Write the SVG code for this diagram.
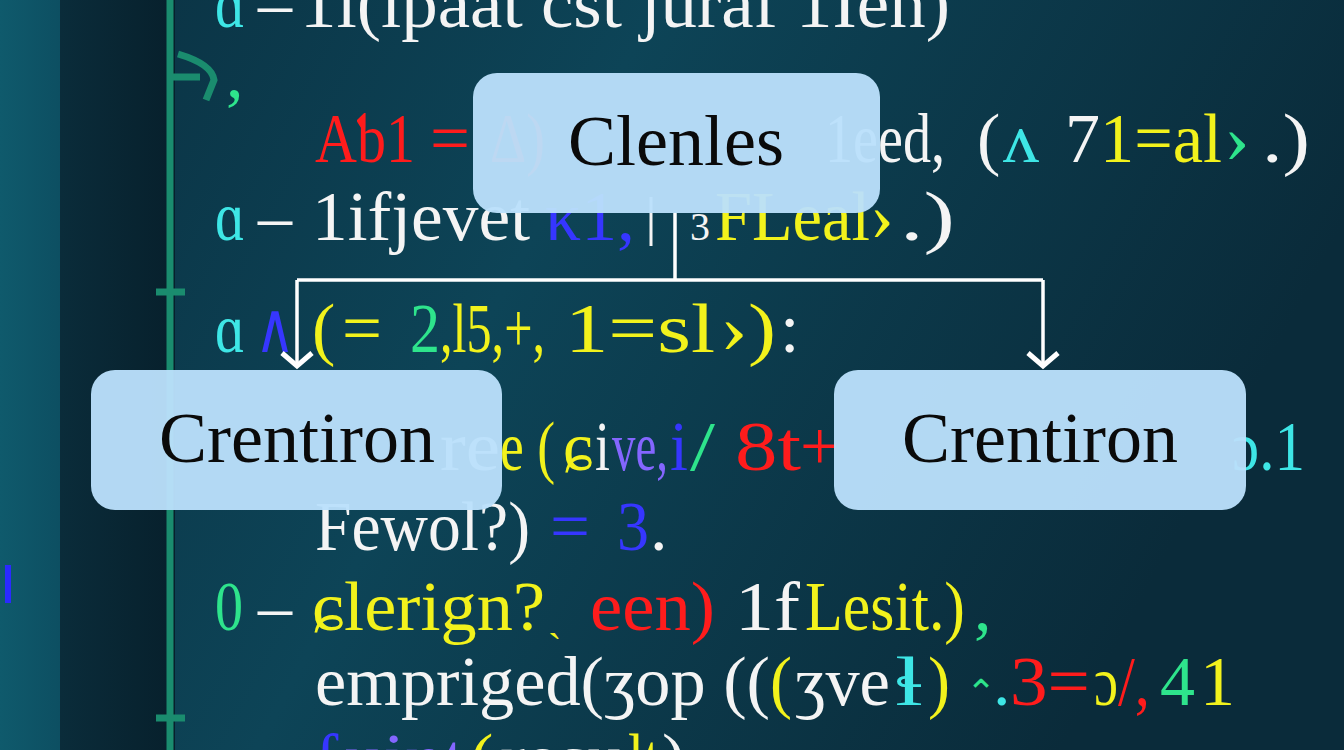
<svg xmlns="http://www.w3.org/2000/svg" width="1344" height="750" viewBox="0 0 1344 750">
<defs>
<linearGradient id="bgMain" x1="0" y1="0" x2="1" y2="0.3">
<stop offset="0" stop-color="#0a3041"/>
<stop offset="0.45" stop-color="#0d4457"/>
<stop offset="1" stop-color="#0a2b3a"/>
</linearGradient>
<linearGradient id="bgDark" x1="0" y1="0" x2="1" y2="0">
<stop offset="0" stop-color="#0a2c3a"/>
<stop offset="1" stop-color="#07202c"/>
</linearGradient>
<linearGradient id="bgStrip" x1="0" y1="0" x2="1" y2="0">
<stop offset="0" stop-color="#0f5a6c"/>
<stop offset="1" stop-color="#0d4f62"/>
</linearGradient>
<marker id="arr" viewBox="0 0 30 34" refX="26" refY="17" markerWidth="30" markerHeight="34" markerUnits="userSpaceOnUse" orient="auto">
<path d="M13,2 L26,17 L13,32" fill="none" stroke="#ffffff" stroke-width="5" stroke-linejoin="miter"/>
</marker>
<style>
.code text{font-family:"Liberation Serif","DejaVu Serif",serif;font-size:70px;fill:#f4f4f4}
.node rect{fill:#bae0fb;fill-opacity:0.96}
.node text{font-family:"Liberation Serif","DejaVu Serif",serif;font-size:72px;fill:#0a0a0a;text-anchor:middle}
.code .cy{fill:#3ee6e6}.code .rd{fill:#ff1c1c}.code .ye{fill:#f2f21c}.code .gr{fill:#2ee48c}.code .bl{fill:#3636ff}.code .pu{fill:#8466ff}
.conn{fill:none;stroke:#ffffff;stroke-width:3.5}
</style>
</defs>
<rect x="0" y="0" width="1344" height="750" fill="url(#bgMain)"/>
<rect x="60" y="0" width="115" height="750" fill="url(#bgDark)"/>
<rect x="0" y="0" width="60" height="750" fill="url(#bgStrip)"/>
<g id="ruler" fill="none" stroke="#1a8c6e" stroke-width="7">
<line x1="170" y1="0" x2="170" y2="750"/>
<line x1="156" y1="292" x2="185" y2="292"/>
<line x1="156" y1="718" x2="185" y2="718"/>
<path d="M170,77 H200 M178,54 Q212,64 214,80 L206,100"/>
</g>
<rect x="5" y="565" width="6" height="38" fill="#2a2aff"/>
<g id="code" class="code">
<g id="line1">
<text x="215" y="27" class="cy" textLength="30" lengthAdjust="spacingAndGlyphs">ɑ</text>
<text x="258" y="27" textLength="34" lengthAdjust="spacingAndGlyphs">–</text>
<text x="300" y="27" textLength="650" lengthAdjust="spacingAndGlyphs">1i(ipaat cst juraf 1Ien)</text>
</g>
<text x="226" y="97" class="gr">,</text>
<g id="line3">
<text x="315" y="162" class="rd" textLength="100" lengthAdjust="spacingAndGlyphs">Aƅ1</text>
<text x="430" y="162" class="rd" textLength="40" lengthAdjust="spacingAndGlyphs">=</text>
<text x="490" y="162" class="rd" textLength="55" lengthAdjust="spacingAndGlyphs">Δ)</text>
<text x="825" y="162" textLength="120" lengthAdjust="spacingAndGlyphs">1eed,</text>
<text x="977" y="162">(</text>
<text x="1003" y="162" class="cy" textLength="36" lengthAdjust="spacingAndGlyphs">ʌ</text>
<text x="1065" y="162">7</text>
<text x="1100" y="162" class="ye" textLength="122" lengthAdjust="spacingAndGlyphs">1=al</text>
<text x="1224" y="162" class="gr" textLength="26" lengthAdjust="spacingAndGlyphs">›</text>
<text x="1262" y="162" textLength="48" lengthAdjust="spacingAndGlyphs">.)</text>
</g>
<g id="line4">
<text x="215" y="240" class="cy" textLength="30" lengthAdjust="spacingAndGlyphs">ɑ</text>
<text x="258" y="240" textLength="34" lengthAdjust="spacingAndGlyphs">–</text>
<text x="312" y="240" textLength="218" lengthAdjust="spacingAndGlyphs">1ifjevet</text>
<text x="545" y="240" class="bl" textLength="90" lengthAdjust="spacingAndGlyphs">κ1,</text>
<text x="690" y="240" style="font-size:40px">3</text>
<text x="715" y="240" class="ye" textLength="155" lengthAdjust="spacingAndGlyphs">FLeal</text>
<text x="870" y="240" class="ye" textLength="24" lengthAdjust="spacingAndGlyphs">›</text>
<text x="900" y="240" textLength="55" lengthAdjust="spacingAndGlyphs">.)</text>
</g>
<g id="line5">
<text x="215" y="352" class="cy" textLength="30" lengthAdjust="spacingAndGlyphs">ɑ</text>
<text x="255" y="352" class="bl" textLength="40" lengthAdjust="spacingAndGlyphs">∧</text>
<text x="312" y="352" class="ye">(</text>
<text x="342" y="352" class="ye" textLength="40" lengthAdjust="spacingAndGlyphs">=</text>
<text x="410" y="352" class="gr" textLength="30" lengthAdjust="spacingAndGlyphs">2</text>
<text x="440" y="352" class="ye" textLength="105" lengthAdjust="spacingAndGlyphs">,l5,+,</text>
<text x="565" y="352" class="ye" textLength="150" lengthAdjust="spacingAndGlyphs">1=sl</text>
<text x="720" y="352" class="ye" textLength="56" lengthAdjust="spacingAndGlyphs">›)</text>
<text x="780" y="352">:</text>
</g>
<g id="line6">
<text x="440" y="470" textLength="60" lengthAdjust="spacingAndGlyphs">re</text>
<text x="500" y="470" class="ye" textLength="55" lengthAdjust="spacingAndGlyphs">e (</text>
<text x="563" y="470" class="ye" textLength="30" lengthAdjust="spacingAndGlyphs">ɕ</text>
<text x="595" y="470" textLength="15" lengthAdjust="spacingAndGlyphs">i</text>
<text x="612" y="470" class="pu" textLength="56" lengthAdjust="spacingAndGlyphs">ve,</text>
<text x="670" y="470" class="bl" textLength="18" lengthAdjust="spacingAndGlyphs">i</text>
<text x="690" y="470" class="gr" textLength="25" lengthAdjust="spacingAndGlyphs">/</text>
<text x="735" y="470" class="rd" textLength="66" lengthAdjust="spacingAndGlyphs">8t</text>
<text x="800" y="470" class="rd">+</text>
<text x="1232" y="470" class="cy" textLength="73" lengthAdjust="spacingAndGlyphs">ɔ.1</text>
</g>
<g id="line7">
<text x="315" y="550" textLength="215" lengthAdjust="spacingAndGlyphs">Fewol?)</text>
<text x="550" y="550" class="bl" textLength="40" lengthAdjust="spacingAndGlyphs">=</text>
<text x="617" y="550" class="bl" textLength="32" lengthAdjust="spacingAndGlyphs">3</text>
<text x="650" y="550">.</text>
</g>
<g id="line8">
<text x="215" y="630" class="gr" textLength="28" lengthAdjust="spacingAndGlyphs">0</text>
<text x="258" y="630" textLength="34" lengthAdjust="spacingAndGlyphs">–</text>
<text x="312" y="630" class="ye" textLength="233" lengthAdjust="spacingAndGlyphs">ɕlerign?</text>
<text x="548" y="630" class="ye" style="font-size:40px">ˎ</text>
<text x="590" y="630" class="rd" textLength="125" lengthAdjust="spacingAndGlyphs">een)</text>
<text x="735" y="630" textLength="65" lengthAdjust="spacingAndGlyphs">1f</text>
<text x="805" y="630" class="ye" textLength="160" lengthAdjust="spacingAndGlyphs">Lesit.)</text>
<text x="974" y="630" class="gr">,</text>
</g>
<g id="line9">
<text x="315" y="705" textLength="455" lengthAdjust="spacingAndGlyphs">empriged(ʒop ((</text>
<text x="770" y="705" class="ye" textLength="22" lengthAdjust="spacingAndGlyphs">(</text>
<text x="795" y="705" textLength="95" lengthAdjust="spacingAndGlyphs">ʒve</text>
<text x="895" y="705" class="cy" textLength="28" lengthAdjust="spacingAndGlyphs">ɬ</text>
<text x="928" y="705" class="ye" textLength="22" lengthAdjust="spacingAndGlyphs">)</text>
<text x="966" y="705" class="gr" style="font-size:36px">⌃</text>
<text x="993" y="705" class="cy">.</text>
<text x="1010" y="705" class="rd" textLength="80" lengthAdjust="spacingAndGlyphs">3=</text>
<text x="1094" y="705" class="ye" textLength="24" lengthAdjust="spacingAndGlyphs">ɔ</text>
<text x="1118" y="705" class="rd" textLength="32" lengthAdjust="spacingAndGlyphs">/,</text>
<text x="1160" y="705" class="gr" textLength="35" lengthAdjust="spacingAndGlyphs">4</text>
<text x="1200" y="705" class="ye" textLength="35" lengthAdjust="spacingAndGlyphs">1</text>
</g>
<g id="line10">
<text x="315" y="782" class="bl">f</text>
<text x="345" y="782" class="pu" textLength="120" lengthAdjust="spacingAndGlyphs">uint</text>
<text x="470" y="782" class="ye">(</text>
<text x="500" y="782" textLength="125" lengthAdjust="spacingAndGlyphs">resu</text>
<text x="628" y="782" class="ye" textLength="32" lengthAdjust="spacingAndGlyphs">lt</text>
<text x="662" y="782">)</text>
</g>
</g>
<line x1="651" y1="197" x2="651" y2="246" stroke="#f4f4f4" stroke-width="3"/>
<g id="connectors">
<path class="conn" d="M675,213 V280"/>
<path class="conn" d="M297,280 H1043"/>
<path class="conn" d="M297,280 V366" marker-end="url(#arr)"/>
<path class="conn" d="M1043,280 V366" marker-end="url(#arr)"/>
</g>
<g id="node-clenles" class="node">
<rect x="473" y="73" width="407" height="140" rx="24"/>
<text x="676" y="165">Clenles</text>
</g>
<g id="node-crentiron-left" class="node">
<rect x="91" y="370" width="411" height="140" rx="24"/>
<text x="297" y="462">Crentiron</text>
</g>
<g id="node-crentiron-right" class="node">
<rect x="834" y="370" width="412" height="140" rx="24"/>
<text x="1040" y="462">Crentiron</text>
</g>
</svg>
